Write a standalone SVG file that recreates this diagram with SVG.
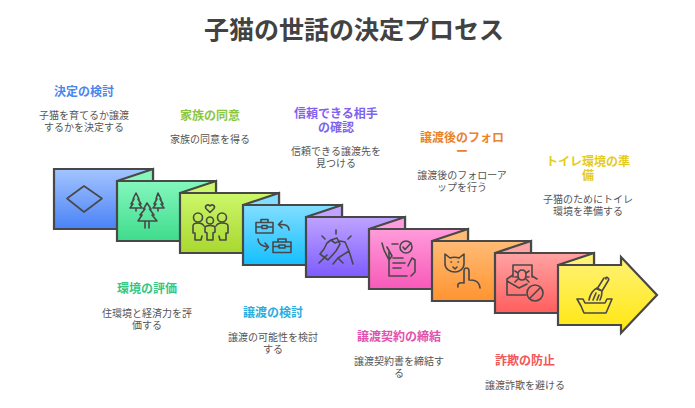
<svg xmlns="http://www.w3.org/2000/svg" width="695" height="408" viewBox="0 0 695 408">
<style>
text{font-family:"Noto Sans CJK JP","Noto Sans",sans-serif;text-anchor:middle}
.t{font-size:25px;font-weight:700;fill:#424242}
.h{font-size:12px;font-weight:700}
.d{font-size:10px;fill:#555}
.c{stroke:#484848;stroke-width:2.2;stroke-linejoin:miter}
.i{fill:none;stroke:#484848;stroke-width:1.6;stroke-linecap:round;stroke-linejoin:round}
</style>
<defs>
<linearGradient id="g1" x1="0" y1="0" x2="0" y2="1"><stop offset="0" stop-color="#a3c4ff"/><stop offset="1" stop-color="#4a82f6"/></linearGradient>
<linearGradient id="g2" x1="0" y1="0" x2="0" y2="1"><stop offset="0" stop-color="#84f7bd"/><stop offset="1" stop-color="#3fdc8c"/></linearGradient>
<linearGradient id="g3" x1="0" y1="0" x2="0" y2="1"><stop offset="0" stop-color="#ccf76a"/><stop offset="1" stop-color="#a8d82f"/></linearGradient>
<linearGradient id="g4" x1="0" y1="0" x2="0" y2="1"><stop offset="0" stop-color="#82deff"/><stop offset="1" stop-color="#14bfff"/></linearGradient>
<linearGradient id="g5" x1="0" y1="0" x2="0" y2="1"><stop offset="0" stop-color="#bfa3ff"/><stop offset="1" stop-color="#7d5cff"/></linearGradient>
<linearGradient id="g6" x1="0" y1="0" x2="0" y2="1"><stop offset="0" stop-color="#ff9cdb"/><stop offset="1" stop-color="#f859b9"/></linearGradient>
<linearGradient id="g7" x1="0" y1="0" x2="0" y2="1"><stop offset="0" stop-color="#ffbb76"/><stop offset="1" stop-color="#ff9430"/></linearGradient>
<linearGradient id="g8" x1="0" y1="0" x2="0" y2="1"><stop offset="0" stop-color="#ffa3a3"/><stop offset="1" stop-color="#ff5e5e"/></linearGradient>
<linearGradient id="g9" x1="0" y1="0" x2="0" y2="1"><stop offset="0" stop-color="#fff276"/><stop offset="1" stop-color="#ffe70f"/></linearGradient>
</defs>
<text class="t" x="354" y="39">子猫の世話の決定プロセス</text>

<g id="card1">
<path class="c" fill="url(#g1)" d="M54 169H153V229H54Z"/>
<path class="i" d="M67 198.500L84 186L102 198.500L84 212Z"/>
<text class="h" x="84" y="95.500" fill="#4a86ee">決定の検討</text>
<text class="d" x="84" y="119">子猫を育てるか譲渡</text>
<text class="d" x="84" y="131">するかを決定する</text>
</g>
<g id="card2">
<path class="c" fill="#84f7bd" d="M117 181L153 169V181Z"/>
<path class="c" fill="url(#g2)" d="M117 181H216V241H117Z"/>
<path class="i" d="M136 193L139 199H138L141 204H139L142 208H130L133 204H131L134 199H133ZM136 208V211M158 193L161 199H160L163 204H161L164 208H153L156 204H154L157 199H156ZM158 208V211M147 203L151 209H149.500L154 215H152L157 221H138L142 215H140L145 209H143.500ZM145 221V228M149 221V228"/>
<text class="h" x="147" y="293" fill="#34c883">環境の評価</text>
<text class="d" x="147" y="317">住環境と経済力を評</text>
<text class="d" x="147" y="329">価する</text>
</g>
<g id="card3">
<path class="c" fill="#ccf76a" d="M180 193L216 181V193Z"/>
<path class="c" fill="url(#g3)" d="M180 193H279V253H180Z"/>
<path class="i" d="M210 212.500L206 208.500C204.500 206 207.500 203.500 210 206C212.500 203.500 215.500 206 214 208.500Z"/>
<circle class="i" cx="198" cy="217.500" r="4.500"/><circle class="i" cx="210" cy="220.500" r="3.500"/><circle class="i" cx="222" cy="217.500" r="4.500"/>
<path class="i" d="M193 233V226C193 224 195 223 198 223C201 223 203 224 204 226M193 233H195V240H201L202 236M216 226C217 224 219 223 222 223C225 223 228 224 228 226V233H226V240H220L219 236M205 232V228C205 226 207 225.500 210 225.500C213 225.500 215 226 215 228V232L213 233V240H207V233Z"/>
<text class="h" x="210" y="119.500" fill="#8cc63f">家族の同意</text>
<text class="d" x="210" y="143">家族の同意を得る</text>
</g>
<g id="card4">
<path class="c" fill="#82deff" d="M243 205L279 193V205Z"/>
<path class="c" fill="url(#g4)" d="M243 205H342V265H243Z"/>
<path class="i" d="M256 222.500H273V233H256ZM261 222.500V219.500H268V222.500M256 227H262M267 227H273M262 225.500H267V228.500H262ZM273 242H291V252.500H273ZM278 242V239H286V242M273 246.500H279M285 246.500H291M279 245H285V248H279ZM289 230C289 226 286 224 279 224.500M282 221L278.500 224.500L282 228M258 239C258 243 261 246 268 247M265 243L268.500 247L265 250.500"/>
<text class="h" x="273" y="317" fill="#2aaee0">譲渡の検討</text>
<text class="d" x="273" y="341">譲渡の可能性を検討</text>
<text class="d" x="273" y="353">する</text>
</g>
<g id="card5">
<path class="c" fill="#bfa3ff" d="M306 217L342 205V217Z"/>
<path class="c" fill="url(#g5)" d="M306 217H405V277H306Z"/>
<path class="i" d="M336 230V234M322 236L325 239M351 236L348 239M319 263L327 255M320 254L328 260L336 251L340 244L337 238L331 240L327 243L324 249ZM331 240L335 243L340 241M340 241L345 242L349 251L353 264M333 264L338 258L343 263M338 258L349 251"/>
<text class="h" x="336" y="118" fill="#7d63ef">信頼できる相手</text>
<text class="h" x="336" y="132" fill="#7d63ef">の確認</text>
<text class="d" x="336" y="155">信頼できる譲渡先を</text>
<text class="d" x="336" y="167">見つける</text>
</g>
<g id="card6">
<path class="c" fill="#ff9cdb" d="M369 229L405 217V229Z"/>
<path class="c" fill="url(#g6)" d="M369 229H468V289H369Z"/>
<path class="i" d="M389 252V276H407M392 244H398M393 258H403M393 263H405M393 268H401M382 243L384 250L389 260L392 256L387 247M415 260L415 272L411 276M408 266L412 258L415 260"/>
<circle class="i" cx="406" cy="247" r="6"/>
<path class="i" d="M403 247L405 249.500L411 243"/>
<text class="h" x="399" y="341" fill="#e252ae">譲渡契約の締結</text>
<text class="d" x="399" y="365">譲渡契約書を締結す</text>
<text class="d" x="399" y="377">る</text>
</g>
<g id="card7">
<path class="c" fill="#ffbb76" d="M432 241L468 229V241Z"/>
<path class="c" fill="url(#g7)" d="M432 241H531V301H432Z"/>
<path class="i" d="M445 254L450 258C452 257 457 257 459 258L464 254V264C464 269 459 272 455 272C450 272 445 269 445 264ZM451 262H451.500M458 262H458.500M453 267L455 269L457 267M458 287C457 284 459 282 464 283V271C464 267 469 267 469 271V280C475 280 479 281 480 288"/>
<text class="h" x="462" y="142" fill="#e9832e">譲渡後のフォロ</text>
<text class="h" x="462" y="156" fill="#e9832e">ー</text>
<text class="d" x="462" y="179">譲渡後のフォローア</text>
<text class="d" x="462" y="191">ップを行う</text>
</g>
<g id="card8">
<path class="c" fill="#ffa3a3" d="M495 253L531 241V253Z"/>
<path class="c" fill="url(#g8)" d="M495 253H594V313H495Z"/>
<path class="i" d="M513 277V265H532V277M507 279L513 275M532 276L537 279M507 279V295H526M507 281L519 288L527 284M522 270C525 270 526 272 526 275C526 278 525 280 522 280C519 280 518 278 518 275C518 272 519 270 522 270ZM518 273L515 271M526 273L529 271M518 277H515M526 277H529M518 279L515 282M526 279L529 282"/>
<circle class="i" cx="535" cy="293" r="8"/>
<path class="i" d="M530 298L540 288"/>
<text class="h" x="525" y="365" fill="#f05757">詐欺の防止</text>
<text class="d" x="525" y="389">譲渡詐欺を避ける</text>
</g>
<g id="card9">
<path class="c" fill="#fff276" d="M558 265L594 253V265Z"/>
<path class="c" fill="url(#g9)" d="M558 265H621V257L657 295L621 333V325H558Z"/>
<path class="i" d="M577 299H583L585 303H605L607 299H612L609 306L606 313H584L581 306ZM606 279C605 277 607 277 608 278C609 279 609 280 608 281L602 291L597 289L604 278M589 300C590 295 593 290 597 288L602 291C602 295 601 298 600 300M593 300L596 293M597 300L599 295"/>
<text class="h" x="588" y="166" fill="#e3cb1f">トイレ環境の準</text>
<text class="h" x="588" y="180" fill="#e3cb1f">備</text>
<text class="d" x="588" y="203">子猫のためにトイレ</text>
<text class="d" x="588" y="215">環境を準備する</text>
</g>
</svg>
